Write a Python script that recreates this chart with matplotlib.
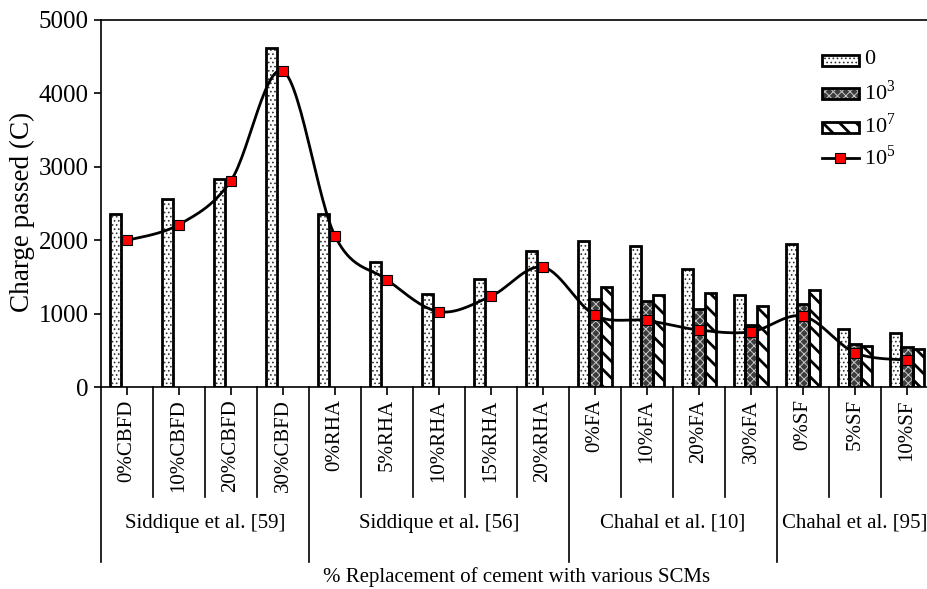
import numpy as np
import matplotlib
matplotlib.use("Agg")
import matplotlib.pyplot as plt
from matplotlib.patches import Rectangle
from matplotlib.lines import Line2D

plt.rcParams['font.family'] = ['Liberation Serif', 'DejaVu Serif']
plt.rcParams['mathtext.fontset'] = 'custom'
plt.rcParams['mathtext.rm'] = 'Liberation Serif'

# ---------------------------------------------------------------- data
categories = ["0%CBFD", "10%CBFD", "20%CBFD", "30%CBFD",
              "0%RHA", "5%RHA", "10%RHA", "15%RHA", "20%RHA",
              "0%FA", "10%FA", "20%FA", "30%FA",
              "0%SF", "5%SF", "10%SF"]
groups = ["Siddique et al. [59]", "Siddique et al. [56]",
          "Chahal et al. [10]", "Chahal et al. [95]"]
group_sizes = [4, 5, 4, 3]

# charge passed (C)
s0 = [2360, 2570, 2835, 4625, 2360, 1710, 1270, 1470, 1860,
      1985, 1930, 1605, 1260, 1945, 790, 745]
s1e3 = [np.nan] * 9 + [1205, 1180, 1065, 850, 1140, 585, 545]
s1e7 = [np.nan] * 9 + [1370, 1260, 1280, 1110, 1330, 560, 525]
s1e5 = [2000, 2215, 2815, 4305, 2060, 1465, 1030, 1240, 1635,
        980, 910, 780, 755, 970, 470, 370]

legend_labels = ["0", r"10$^{\mathrm{3}}$", r"10$^{\mathrm{7}}$", r"10$^{\mathrm{5}}$"]

# ---------------------------------------------------------------- helpers
def smooth(xs, ys, n=30):
    # excel-like smoothed line (bezier with catmull-rom control points)
    P = np.column_stack([np.asarray(xs, float), np.asarray(ys, float)])
    P = np.vstack([P[0], P, P[-1]])
    out = []
    for i in range(1, len(P) - 2):
        p0, p1, p2, p3 = P[i - 1], P[i], P[i + 1], P[i + 2]
        c1 = p1 + (p2 - p0) / 6.0
        c2 = p2 - (p3 - p1) / 6.0
        t = np.linspace(0, 1, n)[:, None]
        seg = (1 - t) ** 3 * p1 + 3 * (1 - t) ** 2 * t * c1 + 3 * (1 - t) * t ** 2 * c2 + t ** 3 * p2
        out.append(seg if i == 1 else seg[1:])
    out = np.vstack(out)
    return out[:, 0], out[:, 1]

# bar styles: (face, hatch colour, hatch, hatch linewidth)
styles = [('white', '#333333', '....', 0.7),
          ('#3c3c3c', '#c8c8c8', 'xxxx', 0.7),
          ('white', 'black', '\\\\', 2.0)]

x = np.arange(len(categories))
w = 0.22

fig = plt.figure(figsize=(9.28, 5.89), dpi=100)
ax = fig.add_axes([101 / 928, 1 - 387.3 / 589, 832 / 928, 367.3 / 589])

for k, vals in enumerate([s0, s1e3, s1e7]):
    face, hcol, hatch, hlw = styles[k]
    plt.rcParams['hatch.linewidth'] = hlw
    ax.bar(x + (k - 1) * w, vals, w, color=face, edgecolor=hcol, hatch=hatch, linewidth=0, zorder=2)
    ax.bar(x + (k - 1) * w, vals, w, fill=False, edgecolor='black', linewidth=2, zorder=3)

sx, sy = smooth(x, s1e5)
ax.plot(sx, sy, color='black', lw=2, zorder=4)
ax.plot(x, s1e5, ls='none', marker='s', ms=7.5, mfc='#ff0000', mec='black', mew=0.8, zorder=5)

ax.set_xlim(-0.5, len(categories) - 0.5)
ax.set_ylim(0, 5000)
ax.set_yticks(np.arange(0, 5001, 1000))
ax.tick_params(axis='y', direction='out', length=5, width=1.2, labelsize=18, pad=4)
ax.set_xticks(x)
ax.set_xticklabels([])
ax.tick_params(axis='x', direction='out', length=6, width=1.2)
ax.spines['right'].set_visible(False)
for sp in ['left', 'bottom', 'top']:
    ax.spines[sp].set_linewidth(1.2)
ax.set_ylabel("Charge passed (C)", fontsize=19.5)
ax.yaxis.set_label_coords((22 - 101) / 832, (387.3 - 212) / 367.3)
ax.yaxis.label.set_verticalalignment('center')

# category labels and separators under the axis
trans = ax.get_xaxis_transform()
for i, c in enumerate(categories):
    ax.text(i, -12 / 367.3, c, rotation=90, ha='center', va='top', fontsize=15,
            transform=trans, clip_on=False)
bounds = np.cumsum([0] + group_sizes)
for b in range(len(categories) + 1):
    bottom = -175 / 367.3 if b in bounds else -110 / 367.3
    ax.plot([b - 0.5, b - 0.5], [0, bottom], color='black', lw=1.2,
            transform=trans, clip_on=False)
for g, name in enumerate(groups):
    cx = (bounds[g] + bounds[g + 1] - 1) / 2
    ax.text(cx, -136 / 367.3, name, ha='center', va='center', fontsize=15,
            transform=trans, clip_on=False)
fig.text(517 / 928, 1 - 577 / 589, "% Replacement of cement with various SCMs",
         ha='center', va='center', fontsize=15)

# legend, drawn by hand in figure pixels
rows_y = [60, 93, 127, 158]
lx0, lx1, lh = 822, 859, 11
for k in range(3):
    face, hcol, hatch, hlw = styles[k]
    plt.rcParams['hatch.linewidth'] = hlw
    y0 = 1 - (rows_y[k] + lh / 2) / 589
    fig.add_artist(Rectangle((lx0 / 928, y0), (lx1 - lx0) / 928, lh / 589, transform=fig.transFigure,
                             facecolor=face, edgecolor=hcol, hatch=hatch, lw=0))
    fig.add_artist(Rectangle((lx0 / 928, y0), (lx1 - lx0) / 928, lh / 589, transform=fig.transFigure,
                             fill=False, edgecolor='black', lw=2))
ly = 1 - rows_y[3] / 589
fig.add_artist(Line2D([lx0 / 928, lx1 / 928], [ly, ly], transform=fig.transFigure, color='black', lw=2))
fig.add_artist(Line2D([(lx0 + lx1) / 2 / 928], [ly], transform=fig.transFigure, ls='none',
                      marker='s', ms=7.5, mfc='#ff0000', mec='black', mew=0.8))
for k, lab in enumerate(legend_labels):
    fig.text(864 / 928, 1 - (rows_y[k] - 1) / 589, lab, ha='left', va='center', fontsize=16)

fig.savefig("out.png", dpi=100)
